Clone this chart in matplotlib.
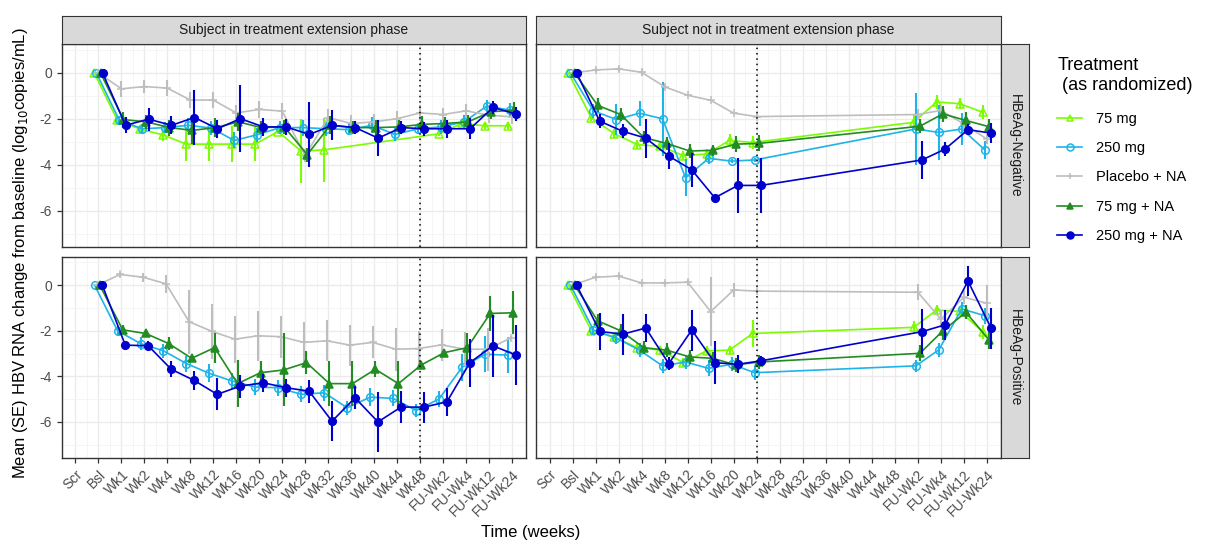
import numpy as np
import matplotlib.pyplot as plt

plt.rcParams['font.family'] = ['Liberation Sans', 'DejaVu Sans']
plt.rcParams['axes.unicode_minus'] = False

visits = ["Scr", "Bsl", "Wk1", "Wk2", "Wk4", "Wk8", "Wk12", "Wk16", "Wk20", "Wk24",
          "Wk28", "Wk32", "Wk36", "Wk40", "Wk44", "Wk48", "FU-Wk2", "FU-Wk4", "FU-Wk12", "FU-Wk24"]
N = None

groups = ["75 mg", "250 mg", "Placebo + NA", "75 mg + NA", "250 mg + NA"]
colors = ["#7CFC00", "#1EB4E8", "#BEBEBE", "#228B22", "#0000CD"]

# HBeAg-Negative, in extension phase
neg_ext_mean = {
    "75 mg":        [N, 0, -2.05, -2.45, -2.7, -3.1, -3.1, -3.1, -3.1, -2.55, -3.4, -3.35, N, N, N, N, -2.65, -2.2, -2.3, -2.3],
    "250 mg":       [N, 0, -2.06, -2.43, -2.38, -2.28, -2.4, -2.94, -2.69, -2.38, -2.38, -2.43, -2.47, -2.28, -2.68, -2.43, -2.35, -2.13, -1.44, -1.62],
    "Placebo + NA": [N, 0, -0.69, -0.59, -0.66, -1.18, -1.18, -1.74, -1.59, -1.66, -3.6, -1.94, -2.2, -2.13, -1.99, -1.74, -1.81, -1.65, -1.84, -1.91],
    "75 mg + NA":   [N, 0, -2.03, -2.13, -2.38, -2.5, -2.38, -2.13, -2.38, -2.35, -3.56, -2.28, -2.38, -2.38, -2.35, -2.24, -2.2, -2.13, -1.69, -1.62],
    "250 mg + NA":  [N, 0, -2.28, -2.01, -2.28, -1.94, -2.43, -1.99, -2.35, -2.35, -2.68, -2.28, -2.38, -2.84, -2.38, -2.43, -2.43, -2.43, -1.5, -1.79],
}
neg_ext_se = {
    "75 mg":        [N, 0, 0.15, 0.15, 0.25, 0.73, 0.73, 0.8, 0.75, 0.1, 1.4, 1.4, N, N, N, N, 0.1, 0.1, 0.15, 0.15],
    "250 mg":       [N, 0, 0.2, 0.2, 0.25, 0.3, 0.3, 0.35, 0.3, 0.3, 0.35, 0.3, 0.25, 0.35, 0.3, 0.25, 0.3, 0.3, 0.25, 0.3],
    "Placebo + NA": [N, 0, 0.35, 0.3, 0.35, 0.35, 0.35, 0.35, 0.35, 0.35, 0.3, 0.35, 0.35, 0.35, 0.35, 0.35, 0.3, 0.3, 0.35, 0.3],
    "75 mg + NA":   [N, 0, 0.35, 0.3, 0.35, 0.6, 0.4, 0.4, 0.3, 0.3, 0.3, 0.4, 0.3, 0.35, 0.3, 0.35, 0.3, 0.3, 0.3, 0.35],
    "250 mg + NA":  [N, 0, 0.35, 0.5, 0.4, 1.2, 0.4, 1.47, 0.4, 0.35, 1.43, 0.66, 0.3, 0.77, 0.3, 0.3, 0.4, 0.45, 0.3, 0.3],
}

# HBeAg-Negative, not in extension phase
neg_noext_mean = {
    "75 mg":        [N, 0, -1.96, -2.65, -3.12, -3.2, -3.6, -3.53, -2.94, -3.03, N, N, N, N, N, N, -2.15, -1.26, -1.34, -1.71],
    "250 mg":       [N, 0, -1.65, -2.03, -1.75, -2.0, -4.57, -3.72, -3.84, -3.79, N, N, N, N, N, N, -2.44, -2.59, -2.44, -3.35],
    "Placebo + NA": [N, 0, 0.13, 0.18, 0.03, -0.6, -0.97, -1.19, -1.75, -1.9, N, N, N, N, N, N, -1.81, -1.63, -2.22, -2.88],
    "75 mg + NA":   [N, 0, -1.41, -1.81, -2.81, -3.07, -3.4, -3.37, -3.1, -3.07, N, N, N, N, N, N, -2.32, -1.78, -2.07, -2.34],
    "250 mg + NA":  [N, 0, -2.1, -2.54, -2.84, -3.62, -4.22, -5.44, -4.9, -4.9, N, N, N, N, N, N, -3.79, -3.32, -2.47, -2.62],
}
neg_noext_se = {
    "75 mg":        [N, 0, 0.15, 0.2, 0.2, 0.2, 0.2, 0.2, 0.3, 0.3, N, N, N, N, N, N, 0.3, 0.3, 0.25, 0.3],
    "250 mg":       [N, 0, 0.3, 0.66, 0.55, 1.6, 0.8, 0.25, 0.1, 0.1, N, N, N, N, N, N, 1.55, 1.2, 0.7, 0.4],
    "Placebo + NA": [N, 0, 0.1, 0.1, 0.15, 0.1, 0.05, 0.05, 0.05, 0.05, N, N, N, N, N, N, 0.25, 0.2, 0.2, 0.2],
    "75 mg + NA":   [N, 0, 0.3, 0.3, 0.3, 0.3, 0.3, 0.25, 0.35, 0.35, N, N, N, N, N, N, 0.3, 0.35, 0.35, 0.35],
    "250 mg + NA":  [N, 0, 0.3, 0.3, 0.85, 0.55, 0.75, 0, 1.2, 1.2, N, N, N, N, N, N, 0.83, 0.3, 0.25, 0.45],
}

# HBeAg-Positive, in extension phase
pos_ext_mean = {
    "75 mg":        [N] * 20,
    "250 mg":       [N, 0, -2.0, -2.56, -2.88, -3.44, -3.87, -4.21, -4.47, -4.5, -4.79, -4.72, -5.38, -4.91, -4.97, -5.5, -4.99, -3.6, -3.03, -3.07],
    "Placebo + NA": [N, 0, 0.47, 0.35, 0.06, -1.6, -2.03, -2.37, -2.22, -2.26, -2.51, -2.44, -2.63, -2.51, -2.81, -2.78, -2.62, -2.81, -2.81, -2.32],
    "75 mg + NA":   [N, 0, -1.96, -2.12, -2.56, -3.21, -2.74, -4.32, -3.84, -3.72, -3.4, -4.32, -4.32, -3.69, -4.32, -3.5, -2.96, -2.74, -1.24, -1.21],
    "250 mg + NA":  [N, 0, -2.63, -2.66, -3.69, -4.18, -4.79, -4.43, -4.28, -4.5, -4.65, -5.97, -4.94, -6.0, -5.35, -5.35, -5.12, -3.4, -2.66, -3.06],
}
pos_ext_se = {
    "75 mg":        [N] * 20,
    "250 mg":       [N, 0, 0.2, 0.3, 0.3, 0.35, 0.4, 0.35, 0.35, 0.35, 0.35, 0.35, 0.3, 0.4, 0.35, 0.3, 0.35, 0.6, 0.8, 0.8],
    "Placebo + NA": [N, 0, 0.1, 0.2, 0.4, 1.4, 1.2, 1.03, 1.1, 0.92, 0.9, 0.9, 0.9, 0.7, 0.95, 0.75, 0.7, 0.75, 0.95, 0.1],
    "75 mg + NA":   [N, 0, 0.2, 0.1, 0.3, 0.1, 0.66, 1.03, 0.5, 1.6, 0.5, 1.0, 1.0, 0.35, 1.0, 0.1, 0.15, 0.66, 0.75, 0.95],
    "250 mg + NA":  [N, 0, 0.2, 0.2, 0.35, 0.4, 0.7, 0.5, 0.4, 0.4, 0.5, 0.88, 0.5, 1.3, 0.7, 0.68, 0.6, 1.05, 1.35, 1.3],
}

# HBeAg-Positive, not in extension phase
pos_noext_mean = {
    "75 mg":        [N, 0, -2.0, -2.29, -2.74, -2.85, -3.4, -2.88, -2.85, -2.12, N, N, N, N, N, N, -1.85, -1.09, -1.15, -2.04],
    "250 mg":       [N, 0, -1.97, -2.32, -2.85, -3.54, -3.37, -3.65, -3.47, -3.84, N, N, N, N, N, N, -3.54, -2.84, -1.04, -1.34],
    "Placebo + NA": [N, 0, 0.35, 0.4, 0.1, 0.1, 0.13, -1.16, -0.21, -0.26, N, N, N, N, N, N, -0.31, -1.49, -0.53, -0.79],
    "75 mg + NA":   [N, 0, -1.56, -2.0, -2.74, -2.85, -3.15, -3.21, -3.5, -3.37, N, N, N, N, N, N, -2.99, -2.0, -1.19, -2.4],
    "250 mg + NA":  [N, 0, -2.03, -2.15, -1.88, -3.44, -1.97, -3.4, -3.47, -3.32, N, N, N, N, N, N, -2.04, -1.74, 0.18, -1.88],
}
pos_noext_se = {
    "75 mg":        [N, 0, 0.15, 0.15, 0.2, 0.2, 0.2, 0.2, 0.2, 0.6, N, N, N, N, N, N, 0.3, 0.2, 0.2, 0.3],
    "250 mg":       [N, 0, 0.2, 0.25, 0.3, 0.3, 0.3, 0.35, 0.3, 0.3, N, N, N, N, N, N, 0.25, 0.3, 0.3, 0.35],
    "Placebo + NA": [N, 0, 0.1, 0.1, 0.1, 0.1, 0.1, 1.5, 0.3, 0.1, N, N, N, N, N, N, 0.35, 0.4, 0.3, 0.8],
    "75 mg + NA":   [N, 0, 0.3, 0.3, 0.3, 0.3, 0.3, 0.3, 0.3, 0.3, N, N, N, N, N, N, 0.35, 0.4, 0.3, 0.4],
    "250 mg + NA":  [N, 0, 0.83, 0.9, 0.6, 0.3, 0.9, 0.94, 0.4, 0.2, N, N, N, N, N, N, 1.0, 0.65, 0.64, 0.9],
}

col_titles = ["Subject in treatment extension phase", "Subject not in treatment extension phase"]
row_titles = ["HBeAg-Negative", "HBeAg-Positive"]
panels = [[(neg_ext_mean, neg_ext_se), (neg_noext_mean, neg_noext_se)],
          [(pos_ext_mean, pos_ext_se), (pos_noext_mean, pos_noext_se)]]
vline_at = ["Wk48", "Wk24"]

markers = {"75 mg": dict(marker="^", mfc="none"), "250 mg": dict(marker="o", mfc="none"),
           "Placebo + NA": dict(marker="+"), "75 mg + NA": dict(marker="^"),
           "250 mg + NA": dict(marker="o")}

W, H = 1206, 546
fig = plt.figure(figsize=(W / 100, H / 100), dpi=100)

def box(x0, y0, x1, y1):
    return [x0 / W, 1 - y1 / H, (x1 - x0) / W, (y1 - y0) / H]

xcols = [(61.7, 525.7), (535.7, 1000.7)]
yrows = [(44.3, 246.7), (256.7, 457.7)]
xpos = np.arange(len(visits))
dodge = 0.45

for r in range(2):
    for c in range(2):
        ax = fig.add_axes(box(xcols[c][0], yrows[r][0], xcols[c][1], yrows[r][1]))
        means, ses = panels[r][c]
        present = [g for g in groups if any(v is not None for v in means[g])]
        n = len(present)
        for k, g in enumerate(groups):
            if g not in present:
                continue
            off = -dodge / 2 + dodge / n * (present.index(g) + 0.5)
            m = np.array(means[g], dtype=float)
            s = np.array(ses[g], dtype=float)
            ok = ~np.isnan(m)
            col = colors[k]
            ax.errorbar(xpos[ok] + off, m[ok], yerr=s[ok], color=col, lw=1.2,
                        elinewidth=1.5, capsize=0, ms=5.5, mew=1.1, mec=col,
                        zorder=3 + k, **markers[g])
        ax.axvline(visits.index(vline_at[c]), color="black", ls=(0, (1, 2.5)), lw=1.1, zorder=10)
        ax.set_xlim(-0.6, len(visits) - 0.4)
        ax.set_ylim(-7.57, 1.25)
        ax.set_xticks(xpos)
        ax.set_xticks(xpos[:-1] + 0.5, minor=True)
        ax.set_yticks([0, -2, -4, -6])
        ax.set_yticks([1, -1, -3, -5, -7], minor=True)
        ax.grid(True, which="major", color="#EBEBEB", lw=1.0, zorder=0)
        ax.grid(True, which="minor", color="#F4F4F4", lw=0.6, zorder=0)
        ax.set_axisbelow(True)
        for sp in ax.spines.values():
            sp.set_color("#333333")
            sp.set_linewidth(1.0)
        ax.tick_params(which="minor", length=0)
        ax.tick_params(which="major", length=3.5, color="#333333", width=0.9,
                       labelsize=10, labelcolor="#4D4D4D")
        if r == 1:
            ax.set_xticklabels(visits, rotation=45, ha="right", va="top", rotation_mode="anchor")
        else:
            ax.tick_params(axis="x", which="major", length=0, labelbottom=False)
        if c == 1:
            ax.tick_params(axis="y", which="major", length=0, labelleft=False)

# strips
for c in range(2):
    sax = fig.add_axes(box(xcols[c][0], 16, xcols[c][1], 44.3))
    sax.set_facecolor("#D9D9D9")
    sax.set_xticks([])
    sax.set_yticks([])
    for sp in sax.spines.values():
        sp.set_color("#333333")
    sax.text(0.5, 0.5, col_titles[c], ha="center", va="center", fontsize=10, color="#1A1A1A",
             transform=sax.transAxes)
for r in range(2):
    sax = fig.add_axes(box(1000.7, yrows[r][0], 1029.3, yrows[r][1]))
    sax.set_facecolor("#D9D9D9")
    sax.set_xticks([])
    sax.set_yticks([])
    for sp in sax.spines.values():
        sp.set_color("#333333")
    sax.text(0.5, 0.5, row_titles[r], ha="center", va="center", fontsize=10, color="#1A1A1A",
             rotation=-90, transform=sax.transAxes)

fig.text(21 / W, 1 - 253 / H, "Mean (SE) HBV RNA change from baseline (log$_{10}$copies/mL)",
         rotation=90, ha="center", va="center", fontsize=12)
fig.text(531 / W, 1 - 533 / H, "Time (weeks)", ha="center", va="center", fontsize=12)

# legend
handles = []
for k, g in enumerate(groups):
    h, = fig.axes[0].plot([], [], color=colors[k], lw=1.2, ms=5, mew=1.1, mec=colors[k], **markers[g])
    handles.append(h)
leg = fig.legend(handles, groups, title="Treatment\n (as randomized)", loc="upper left",
                 bbox_to_anchor=(1044 / W, 1 - 44 / H), frameon=False, fontsize=10.5,
                 title_fontsize=13, handlelength=1.7, handletextpad=1.0,
                 labelspacing=1.05, alignment="left")
leg._legend_box.sep = 13

fig.savefig("out.png", dpi=100)
